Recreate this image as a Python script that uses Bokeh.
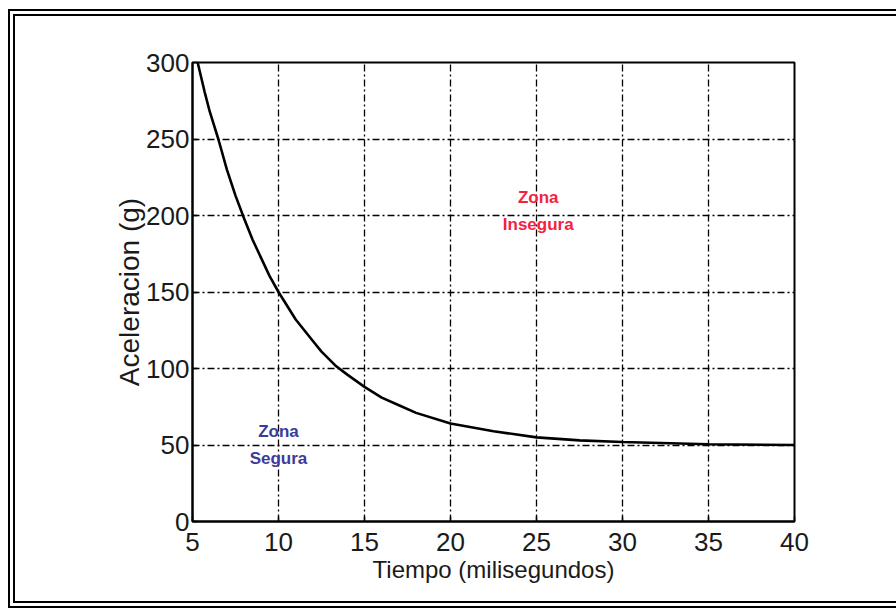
from bokeh.plotting import figure
from bokeh.models import Range1d, FixedTicker
from bokeh.core.properties import value
from bokeh.embed import file_html
from bokeh.resources import INLINE

# ---- data ----
tiempo = [5.3, 5.7, 6.0, 6.5, 7.0, 7.5, 8.0, 8.5, 9.0, 9.5, 10.0, 11.0, 12.0, 12.5,
          13.3, 14.0, 15.0, 16.0, 17.0, 18.0, 20.0, 22.5, 25.0, 27.5, 30.0, 35.0, 40.0]
aceleracion = [300, 281, 268, 250, 230, 213, 198, 184, 172, 160, 150, 132, 118, 111,
               102, 96, 88, 81, 76, 71, 64, 59, 55, 53, 52, 50.5, 50]
x_ticks = [5, 10, 15, 20, 25, 30, 35, 40]
y_ticks = [0, 50, 100, 150, 200, 250, 300]
zona_segura = ["Zona", "Segura"]
zona_segura_x = [10, 10]
zona_segura_y = [59, 41]
zona_insegura = ["Zona", "Insegura"]
zona_insegura_x = [25.1, 25.1]
zona_insegura_y = [212, 194]

FONT = "Liberation Sans"

p = figure(width=888, height=599, output_backend="svg", toolbar_location=None,
           x_range=Range1d(5, 40), y_range=Range1d(0, 300),
           min_border_left=177, min_border_top=46, min_border_right=109,
           min_border_bottom=94)
p.styles = {"border": "7px double black", "border-right": "none",
            "margin-left": "8px", "margin-top": "9px"}
p.background_fill_color = "white"
p.border_fill_color = "white"
p.outline_line_color = "black"
p.outline_line_width = 2

for ax in (p.xaxis[0], p.yaxis[0]):
    ax.axis_line_color = "black"
    ax.axis_line_width = 2
    ax.major_tick_in = 5
    ax.major_tick_out = 0
    ax.minor_tick_line_color = None
    ax.major_tick_line_color = "black"
    ax.major_tick_line_width = 1.5
    ax.major_label_text_font = FONT
    ax.major_label_text_font_size = "26px"
    ax.major_label_text_color = "#1a1a1a"
    ax.axis_label_text_font = FONT
    ax.axis_label_text_font_style = "normal"
    ax.axis_label_text_color = "#1a1a1a"

p.xaxis.ticker = FixedTicker(ticks=x_ticks)
p.yaxis.ticker = FixedTicker(ticks=y_ticks)
p.xaxis.axis_label = "Tiempo (milisegundos)"
p.yaxis.axis_label = "Aceleracion (g)"
p.xaxis.axis_label_text_font_size = "24px"
p.yaxis.axis_label_text_font_size = "28px"
p.xaxis.major_label_standoff = 11
p.yaxis.major_label_standoff = 3
p.xaxis.axis_label_standoff = 2
p.yaxis.axis_label_standoff = -2

for g in (p.xgrid[0], p.ygrid[0]):
    g.grid_line_color = "black"
    g.grid_line_width = 1.3
    g.grid_line_dash = "7 3 2 3"
p.xgrid.ticker = FixedTicker(ticks=x_ticks)
p.ygrid.ticker = FixedTicker(ticks=y_ticks)

p.line(tiempo, aceleracion, line_color="black", line_width=2.6)

p.text(x=zona_segura_x, y=zona_segura_y, text=zona_segura,
       text_font=value(FONT), text_font_style="bold", text_font_size="17px",
       text_color="#3b3b9c", text_align="center", text_baseline="middle")
p.text(x=zona_insegura_x, y=zona_insegura_y, text=zona_insegura,
       text_font=value(FONT), text_font_style="bold", text_font_size="17px",
       text_color="#f5213f", text_align="center", text_baseline="middle")

open("out.html", "w").write(file_html(p, INLINE))
